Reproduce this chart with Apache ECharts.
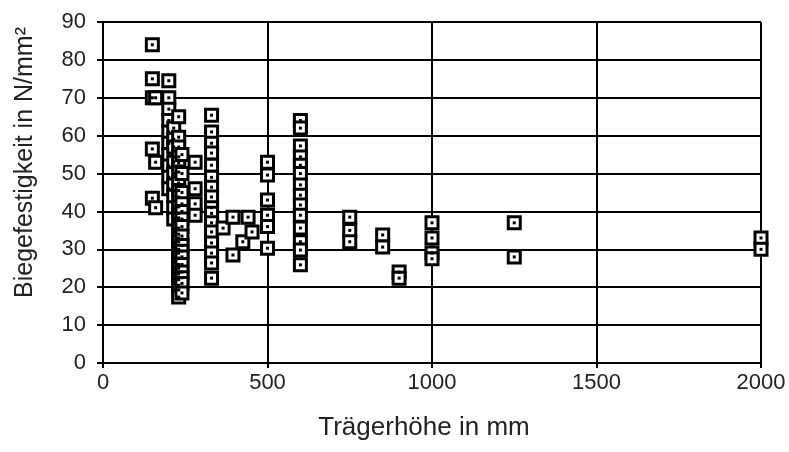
<!DOCTYPE html>
<html>
<head>
<meta charset="utf-8">
<script src="https://cdn.jsdelivr.net/npm/echarts@6/dist/echarts.min.js"></script>
<style>
  html, body { margin: 0; padding: 0; background: #fff; }
  #main { width: 789px; height: 452px; }
</style>
</head>
<body>
<div id="main"></div>
<script>
// Trägerhöhe (mm) und zugehörige Biegefestigkeiten (N/mm²)
const heights = [150, 160, 200, 215, 230, 240, 280, 330, 365, 395, 425, 441, 453, 500, 600, 750, 850, 900, 1000, 1250, 2000]
const strengths = [
    [84, 75, 70, 56.5, 43.5],
    [70, 53, 41],
    [74.5, 70, 67, 64, 61, 58, 55, 52, 49, 46],
    [62, 59, 57, 53, 50, 47, 44, 41, 38],
    [65, 59.6, 57, 54.4, 52.8, 50.4, 47.5, 45.5, 43.8, 41.2, 39.5, 38.3, 35.6, 34, 33, 32, 30, 29, 27.7, 26, 25, 23.5, 22, 20.5, 19.3, 17.4],
    [55, 50, 45, 42, 40, 38, 36, 33.5, 31, 29.5, 28, 26, 24, 22.5, 21, 18.5],
    [53, 46, 42, 39],
    [65.4, 61, 58, 55.4, 52.2, 49, 46.4, 43.8, 41, 39.5, 37, 34.6, 31.7, 29, 26.4, 22.4],
    [35.6],
    [38.5, 28.5],
    [32],
    [38.5],
    [34.6],
    [53, 49.6, 43, 39, 36, 30.3],
    [64, 62, 57.3, 54.4, 52.2, 50, 47, 44.3, 41.7, 39, 35.6, 32, 29.8, 25.9],
    [38.5, 35, 32],
    [33.8, 30.6],
    [24, 22.4],
    [37, 33, 29, 27.5],
    [37, 28],
    [33, 30]
]

const points = []
heights.forEach((h, i) => {
    strengths[i].forEach(v => points.push([h, v]))
})

const font = 'Liberation Sans, Arial, sans-serif'

const option = {
    animation: false,
    backgroundColor: '#fff',
    grid: { left: 103, right: 28, top: 22, bottom: 89 },
    xAxis: {
        type: 'value',
        min: 0, max: 2000, interval: 500,
        name: 'Trägerhöhe in mm',
        nameLocation: 'middle',
        nameGap: 52,
        nameTextStyle: { fontFamily: font, fontSize: 26, color: '#222', padding: [0, 16, 0, 0] },
        axisLine: { show: true, lineStyle: { color: '#000', width: 2 } },
        axisTick: { show: true, length: 5, lineStyle: { color: '#000', width: 2 } },
        axisLabel: { margin: 9, fontFamily: font, fontSize: 22, color: '#222', formatter: v => String(v) },
        splitLine: { show: true, lineStyle: { color: '#000', width: 2 } }
    },
    yAxis: {
        type: 'value',
        min: 0, max: 90, interval: 10,
        name: 'Biegefestigkeit in N/mm²',
        nameLocation: 'middle',
        nameGap: 65,
        nameTextStyle: { fontFamily: font, fontSize: 25, color: '#222', padding: [0, 0, 0, 60] },
        axisLine: { show: true, lineStyle: { color: '#000', width: 2 } },
        axisTick: { show: true, length: 6, lineStyle: { color: '#000', width: 2 } },
        axisLabel: { margin: 17, fontFamily: font, fontSize: 22, color: '#222' },
        splitLine: { show: true, lineStyle: { color: '#000', width: 2 } }
    },
    series: [
        {
            type: 'scatter',
            data: points,
            symbol: 'rect',
            symbolSize: 12,
            itemStyle: { color: '#fff', borderColor: '#000', borderWidth: 3, opacity: 1 }
        },
        {
            // Punkt in der Mitte jedes Quadrats
            type: 'scatter',
            data: points,
            symbol: 'rect',
            symbolSize: 3,
            itemStyle: { color: '#000', opacity: 1 }
        }
    ]
}

const myChart = echarts.init(document.getElementById('main'))
myChart.setOption(option)
</script>
</body>
</html>
